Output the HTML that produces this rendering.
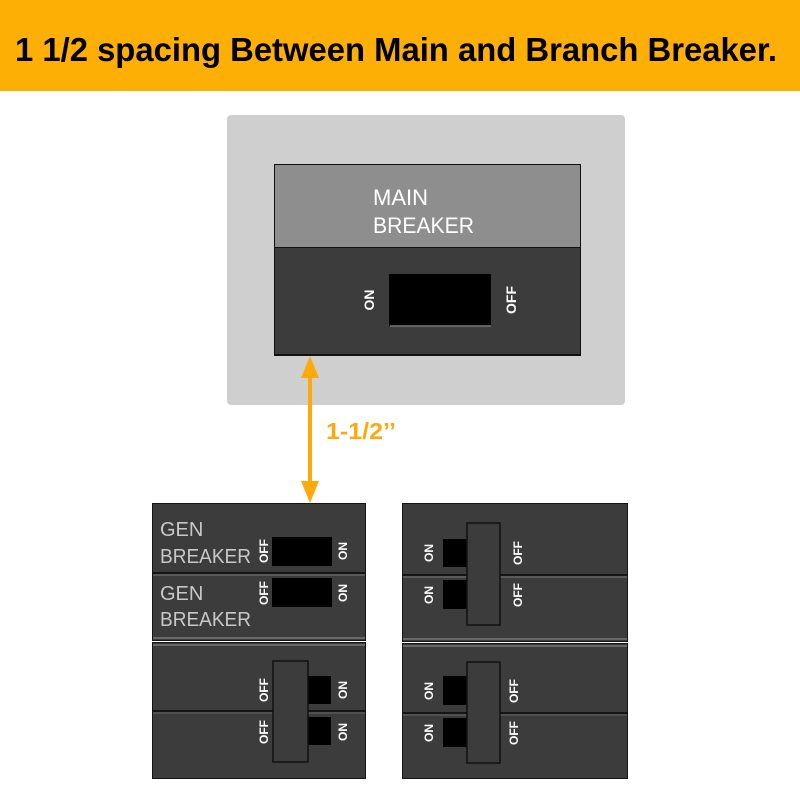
<!DOCTYPE html>
<html><head><meta charset="utf-8"><style>
html,body{margin:0;padding:0;background:#fff;}
svg{display:block;}
text{font-family:"Liberation Sans",sans-serif;}
</style></head><body>
<svg width="800" height="800" viewBox="0 0 800 800" xmlns="http://www.w3.org/2000/svg">
<rect x="0" y="0" width="800" height="91" fill="#FDAF06"/>
<text x="396" y="61" font-size="33" font-weight="bold" fill="#000" text-anchor="middle" textLength="762" lengthAdjust="spacingAndGlyphs">1 1/2 spacing Between Main and Branch Breaker.</text>

<rect x="227" y="115" width="398" height="290" rx="4" fill="#cfcfcf"/>
<rect x="274" y="164" width="307" height="192" fill="#111"/>
<rect x="275" y="165" width="305" height="82" fill="#8e8e8e"/>
<rect x="275" y="248" width="305" height="106" fill="#3c3c3c"/>
<text x="373" y="205" font-size="22" fill="#fff">MAIN</text>
<text x="373" y="233" font-size="22" fill="#fff" textLength="101" lengthAdjust="spacingAndGlyphs">BREAKER</text>
<rect x="389" y="274" width="102" height="52" fill="#000"/>
<line x1="390" y1="326" x2="491" y2="326" stroke="#777" stroke-width="1.5"/>
<text transform="translate(374,300) rotate(-90)" font-size="14" font-weight="bold" fill="#fff" text-anchor="middle">ON</text>
<text transform="translate(516,300) rotate(-90)" font-size="14" font-weight="bold" fill="#fff" text-anchor="middle">OFF</text>

<line x1="310" y1="372" x2="310" y2="487" stroke="#FDA90B" stroke-width="4"/>
<polygon points="310,356 301,378 319,378" fill="#FDA90B"/>
<polygon points="310,503 301,481 319,481" fill="#FDA90B"/>
<text x="326" y="439" font-size="23" font-weight="bold" fill="#FDA90B" textLength="70" lengthAdjust="spacingAndGlyphs">1-1/2’’</text>

<rect x="152" y="503" width="214" height="138" fill="#151515"/>
<rect x="153" y="504" width="212" height="136" fill="#3c3c3c"/>
<rect x="152" y="642" width="214" height="137" fill="#151515"/>
<rect x="153" y="643" width="212" height="135" fill="#3c3c3c"/>
<line x1="153" y1="573" x2="365" y2="573" stroke="#151515" stroke-width="2"/>
<line x1="153" y1="575" x2="365" y2="575" stroke="#777" stroke-width="1"/>
<line x1="153" y1="638" x2="365" y2="638" stroke="#777" stroke-width="1.5"/>
<line x1="153" y1="645" x2="365" y2="645" stroke="#777" stroke-width="1.5"/>
<line x1="153" y1="711" x2="365" y2="711" stroke="#151515" stroke-width="2"/>
<line x1="153" y1="713" x2="365" y2="713" stroke="#666" stroke-width="1"/>
<text x="160" y="536" font-size="20" fill="#c8c8c8">GEN</text>
<text x="160" y="563" font-size="20" fill="#c8c8c8" textLength="91" lengthAdjust="spacingAndGlyphs">BREAKER</text>
<text x="160" y="600" font-size="20" fill="#c8c8c8">GEN</text>
<text x="160" y="626" font-size="20" fill="#c8c8c8" textLength="91" lengthAdjust="spacingAndGlyphs">BREAKER</text>
<rect x="272" y="537" width="60" height="29" fill="#000"/>
<rect x="272" y="578" width="60" height="29" fill="#000"/>
<text transform="translate(268,551) rotate(-90)" font-size="12" font-weight="bold" fill="#fff" text-anchor="middle">OFF</text>
<text transform="translate(347,551) rotate(-90)" font-size="12" font-weight="bold" fill="#fff" text-anchor="middle">ON</text>
<text transform="translate(268,593) rotate(-90)" font-size="12" font-weight="bold" fill="#fff" text-anchor="middle">OFF</text>
<text transform="translate(347,593) rotate(-90)" font-size="12" font-weight="bold" fill="#fff" text-anchor="middle">ON</text>
<rect x="308" y="676" width="23" height="28" fill="#000"/>
<rect x="308" y="717" width="23" height="28" fill="#000"/>
<rect x="273" y="661" width="35" height="101" fill="#3c3c3c" stroke="#111" stroke-width="1.5"/>
<text transform="translate(268,690) rotate(-90)" font-size="12" font-weight="bold" fill="#fff" text-anchor="middle">OFF</text>
<text transform="translate(347,690) rotate(-90)" font-size="12" font-weight="bold" fill="#fff" text-anchor="middle">ON</text>
<text transform="translate(268,732) rotate(-90)" font-size="12" font-weight="bold" fill="#fff" text-anchor="middle">OFF</text>
<text transform="translate(347,732) rotate(-90)" font-size="12" font-weight="bold" fill="#fff" text-anchor="middle">ON</text>

<rect x="402" y="503" width="226" height="139" fill="#151515"/>
<rect x="403" y="504" width="224" height="137" fill="#3c3c3c"/>
<rect x="402" y="643" width="226" height="136" fill="#151515"/>
<rect x="403" y="644" width="224" height="134" fill="#3c3c3c"/>
<line x1="403" y1="575" x2="627" y2="575" stroke="#151515" stroke-width="2"/>
<line x1="403" y1="577" x2="627" y2="577" stroke="#777" stroke-width="1"/>
<line x1="403" y1="639" x2="627" y2="639" stroke="#777" stroke-width="1.5"/>
<line x1="403" y1="646" x2="627" y2="646" stroke="#777" stroke-width="1.5"/>
<line x1="403" y1="713" x2="627" y2="713" stroke="#151515" stroke-width="2"/>
<line x1="403" y1="715" x2="627" y2="715" stroke="#666" stroke-width="1"/>
<rect x="443" y="539" width="25" height="28" fill="#000"/>
<rect x="443" y="580" width="25" height="29" fill="#000"/>
<rect x="467" y="523" width="33" height="102" fill="#3c3c3c" stroke="#111" stroke-width="1.5"/>
<rect x="443" y="676" width="25" height="29" fill="#000"/>
<rect x="443" y="718" width="25" height="29" fill="#000"/>
<rect x="467" y="662" width="33" height="101" fill="#3c3c3c" stroke="#111" stroke-width="1.5"/>
<text transform="translate(433,553) rotate(-90)" font-size="12" font-weight="bold" fill="#fff" text-anchor="middle">ON</text>
<text transform="translate(522,553) rotate(-90)" font-size="12" font-weight="bold" fill="#fff" text-anchor="middle">OFF</text>
<text transform="translate(433,595) rotate(-90)" font-size="12" font-weight="bold" fill="#fff" text-anchor="middle">ON</text>
<text transform="translate(522,595) rotate(-90)" font-size="12" font-weight="bold" fill="#fff" text-anchor="middle">OFF</text>
<text transform="translate(433,691) rotate(-90)" font-size="12" font-weight="bold" fill="#fff" text-anchor="middle">ON</text>
<text transform="translate(518,691) rotate(-90)" font-size="12" font-weight="bold" fill="#fff" text-anchor="middle">OFF</text>
<text transform="translate(433,733) rotate(-90)" font-size="12" font-weight="bold" fill="#fff" text-anchor="middle">ON</text>
<text transform="translate(518,733) rotate(-90)" font-size="12" font-weight="bold" fill="#fff" text-anchor="middle">OFF</text>
</svg>
</body></html>
